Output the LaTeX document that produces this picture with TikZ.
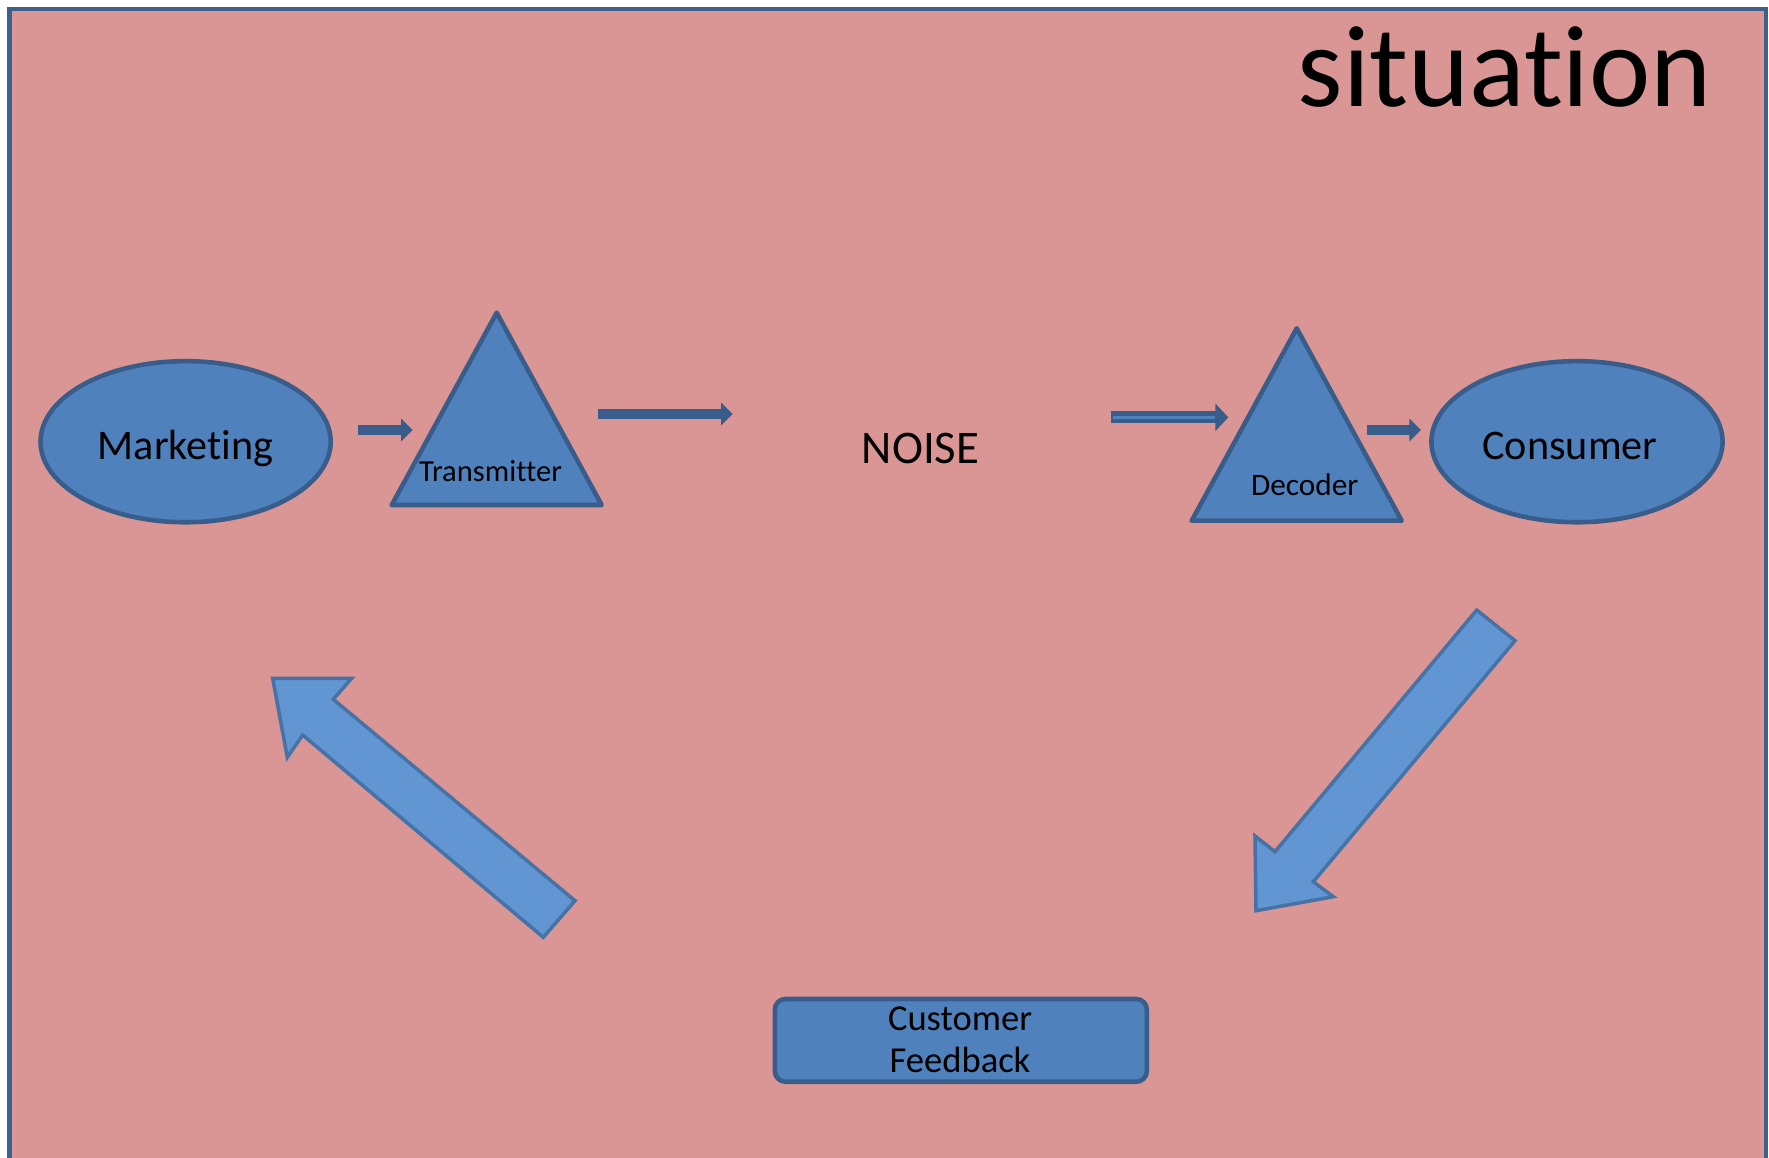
\documentclass[tikz,border=0pt]{standalone}
\usepackage{fontspec}
\setmainfont{Carlito}[Ligatures=NoCommon]
\usetikzlibrary{arrows.meta,shapes.geometric}
\definecolor{bgpink}{RGB}{217,150,148}
\definecolor{frameblue}{RGB}{62,96,140}
\definecolor{bordblue}{RGB}{56,93,138}
\definecolor{shapeblue}{RGB}{79,129,189}
\definecolor{bigfill}{RGB}{97,150,211}
\definecolor{bigbord}{RGB}{70,114,165}
\begin{document}
\begin{tikzpicture}[x=0.01cm,y=-0.01cm,
  shp/.style={draw=bordblue,fill=shapeblue,line width=1.3pt,line join=round},
  blobell/.style={ellipse,draw=bordblue,fill=shapeblue,line width=1.3pt,inner sep=0pt},
  bigarrow/.style={draw=bigbord,fill=bigfill,line width=1pt,line join=miter},
  smallarrow/.style={draw=bordblue,line width=2.85pt,-{Triangle[length=3.3pt,width=6.3pt]}},
  lbl/.style={inner sep=0pt,anchor=base,text=black}]
\useasboundingbox (0,0) rectangle (1769,1157);
\clip (0,0) rectangle (1769,1157);
\fill[white] (0,0) rectangle (1769,1157);
\draw[frameblue,line width=1.4pt,fill=bgpink] (9.5,9) rectangle (1766,1200);

% title
\node[lbl,anchor=base east,font=\fontsize{33}{40}\selectfont] (title) at (1712.5,106) {situation};

% ellipses
\node[blobell,minimum width=2.9cm,minimum height=1.61cm] (mkt) at (185.6,441.7) {};
\node[lbl,font=\fontsize{12}{14}\selectfont] (mktt) at (185.6,459) {Marketing};
\node[blobell,minimum width=2.91cm,minimum height=1.61cm] (con) at (1577,441.7) {};
\node[lbl,font=\fontsize{12}{14}\selectfont] (cont) at (1570,459) {Consumer};

% triangles
\draw[shp] (391.7,505) -- (496.7,312.7) -- (601.7,505) -- cycle;
\node[lbl,font=\fontsize{8.7}{10}\selectfont] (trt) at (490.5,481.7) {Transmitter};
\draw[shp] (1191.7,520.7) -- (1296.7,328.3) -- (1401.7,520.7) -- cycle;
\node[lbl,font=\fontsize{8.9}{10}\selectfont] (dect) at (1304.7,495.7) {Decoder};

% noise
\node[lbl,font=\fontsize{13.3}{15}\selectfont] (noise) at (920.5,463.7) {NOISE};

% small arrows
\coordinate (a1s) at (358,430);  \coordinate (a1e) at (412.7,430);
\coordinate (a2s) at (598,414);  \coordinate (a2e) at (732.7,414);
\coordinate (a3s) at (1110.7,417.3); \coordinate (a3e) at (1228.3,417.3);
\coordinate (a3m) at (1215,417.3); \coordinate (a3i) at (1113,417.3);
\coordinate (a4s) at (1366.7,430); \coordinate (a4e) at (1421,430);
\draw[smallarrow] (a1s) -- (a1e);
\draw[smallarrow] (a2s) -- (a2e);
\draw[draw=bordblue,line width=3.4pt,-{Triangle[length=3.7pt,width=7.7pt]}] (a3s) -- (a3e);
\draw[draw=shapeblue,line width=0.9pt] (a3i) -- (a3m);
\draw[smallarrow] (a4s) -- (a4e);

% big arrows
\draw[bigarrow] (575,900.7) -- (543.3,937.3) -- (302.7,735) -- (287.3,757.3) -- (272.7,678.3) -- (351.7,678.3) -- (333.3,699.3) -- cycle;
\draw[bigarrow] (1476.7,610) -- (1515,640.7) -- (1313.3,881.7) -- (1333.3,896.7) -- (1256,910.7) -- (1255,836) -- (1275,851.7) -- cycle;

% customer feedback
\node[draw=bordblue,fill=shapeblue,line width=1.3pt,rounded corners=3pt,minimum width=3.717cm,minimum height=0.827cm,inner sep=0pt] (cfb) at (960.85,1040.35) {};
\node[lbl,font=\fontsize{10.4}{12}\selectfont] (cf1) at (960,1030.7) {Customer};
\node[lbl,font=\fontsize{10.4}{12}\selectfont] (cf2) at (960,1072.7) {Feedback};
\end{tikzpicture}
\end{document}
